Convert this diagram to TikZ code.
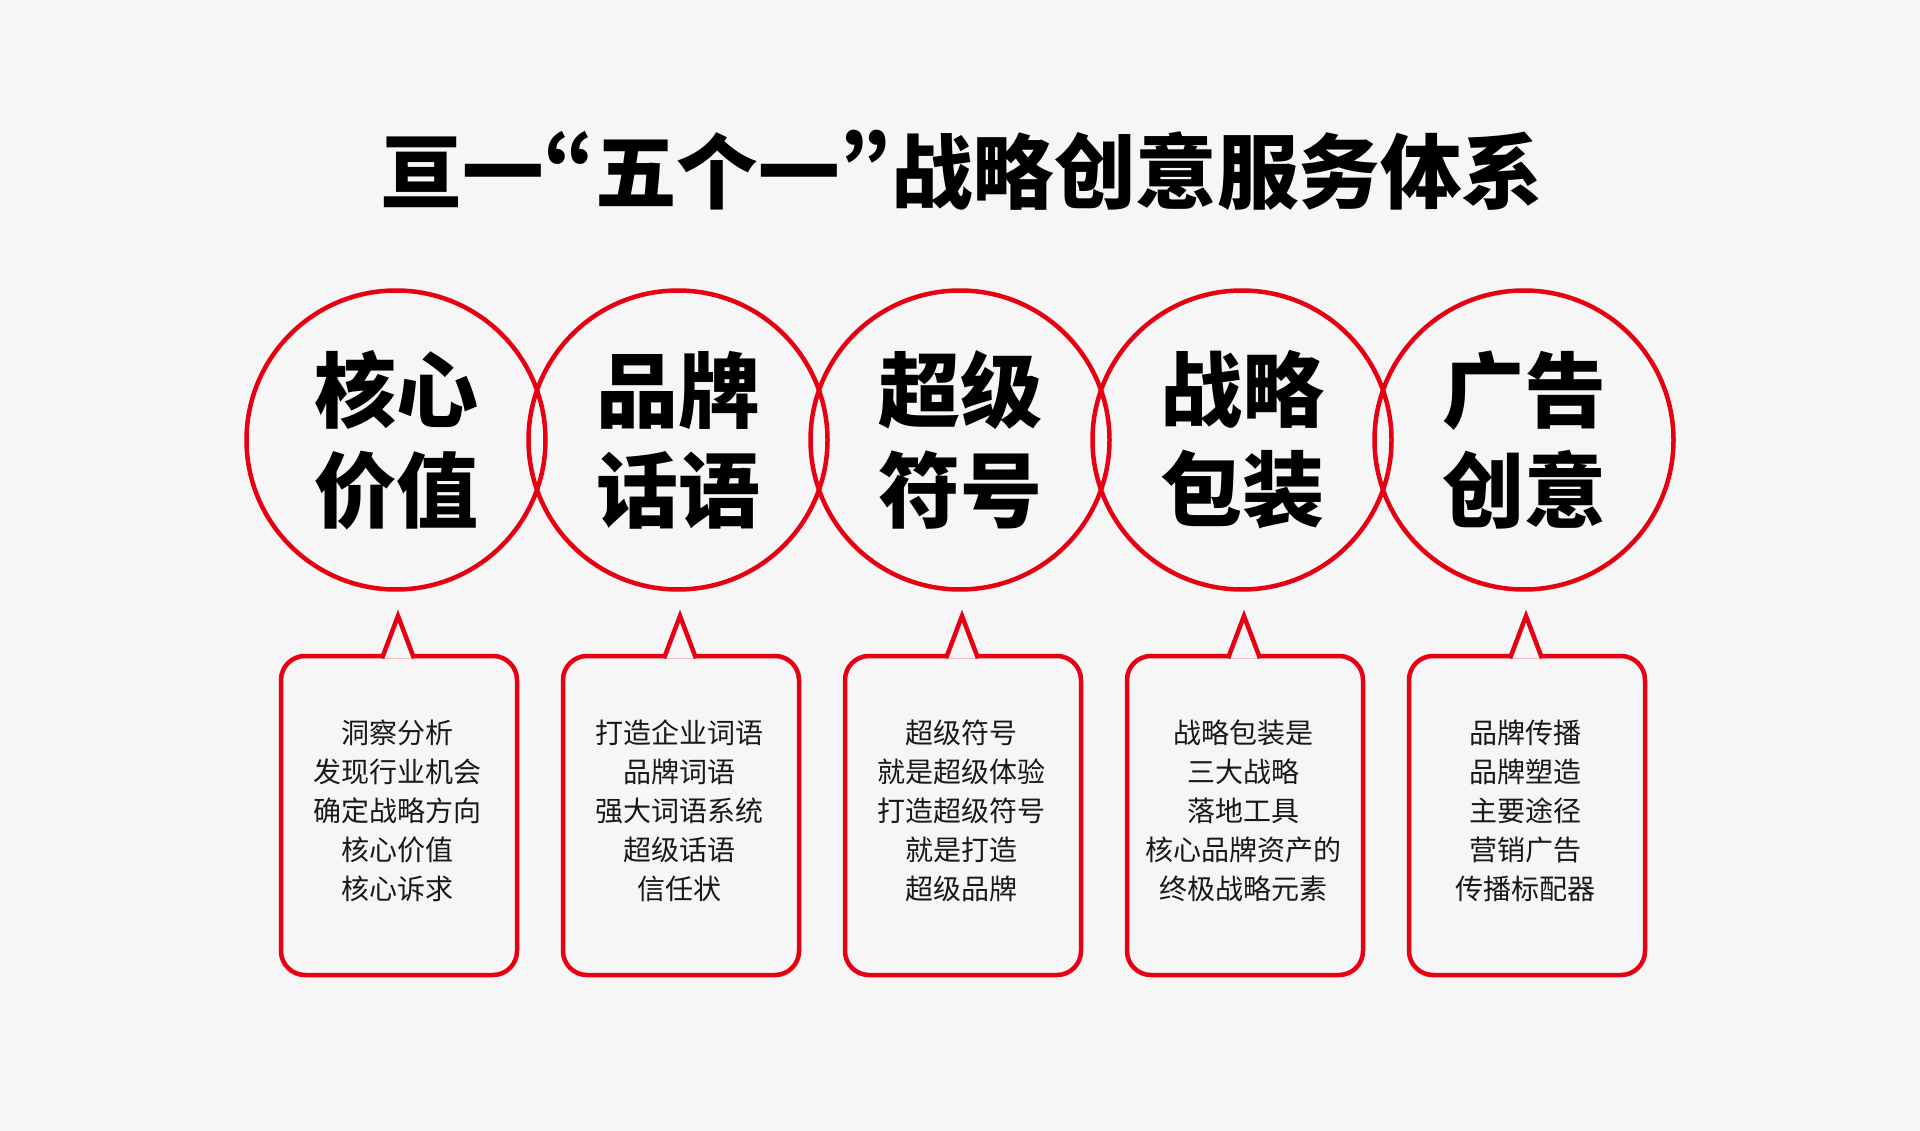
\documentclass[tikz,border=0pt]{standalone}
\usepackage{fontspec}
\setmainfont{Noto Sans CJK SC}
\newfontfamily\titlefont{Noto Sans CJK SC Black}
\usetikzlibrary{positioning}
\definecolor{brandred}{RGB}{230,0,18}
\definecolor{pagegray}{RGB}{247,246,247}
\newcommand{\narrowquote}[1]{{\addfontfeature{RawFeature=+pwid}#1}}
\tikzset{
    value-circle/.style = {draw=brandred, line width=4.5pt, circle, minimum size=299pt, inner sep=0pt, outer sep=0pt, align=center, font=\bfseries\fontsize{82pt}{100pt}\selectfont},
    note-frame/.style = {draw=brandred, line width=4.5pt, rectangle, rounded corners=24pt, minimum width=236pt, minimum height=319pt, inner sep=0pt, outer sep=0pt},
    note-tip/.style = {draw=brandred, fill=pagegray, line width=4.5pt, line join=miter},
    note-text/.style = {align=center, text=black!90, font=\fontsize{28pt}{39pt}\selectfont},
    main-title/.style = {font=\titlefont\fontsize{81.5pt}{95pt}\selectfont},
}

\begin{document}
\begin{tikzpicture}[x=1pt, y=-1pt]
\fill[pagegray] (0,0) rectangle (1920,1131);
\node[main-title] (title) at (962,170) {亘一\narrowquote{“}五个一\narrowquote{”}战略创意服务体系};

\node[value-circle] (c1) at (396,440) {核心\\价值};
\node[value-circle] (c2) at (678,440) {品牌\\话语};
\node[value-circle] (c3) at (960,440) {超级\\符号};
\node[value-circle] (c4) at (1242,440) {战略\\包装};
\node[value-circle] (c5) at (1524,440) {广告\\创意};

\node[note-frame, below=66.5pt of c1, xshift=3pt] (b1) {};
\node[note-frame, below=66.5pt of c2, xshift=3pt] (b2) {};
\node[note-frame, below=66.5pt of c3, xshift=3pt] (b3) {};
\node[note-frame, below=66.5pt of c4, xshift=3pt] (b4) {};
\node[note-frame, below=66.5pt of c5, xshift=3pt] (b5) {};

% tips pointing up, the fill hides the frame under them
\draw[note-tip] ([xshift=-17pt, yshift=-2.3pt]b1.north) -- ([xshift=-1pt, yshift=40pt]b1.north) -- ([xshift=15pt, yshift=-2.3pt]b1.north);
\draw[note-tip] ([xshift=-17pt, yshift=-2.3pt]b2.north) -- ([xshift=-1pt, yshift=40pt]b2.north) -- ([xshift=15pt, yshift=-2.3pt]b2.north);
\draw[note-tip] ([xshift=-17pt, yshift=-2.3pt]b3.north) -- ([xshift=-1pt, yshift=40pt]b3.north) -- ([xshift=15pt, yshift=-2.3pt]b3.north);
\draw[note-tip] ([xshift=-17pt, yshift=-2.3pt]b4.north) -- ([xshift=-1pt, yshift=40pt]b4.north) -- ([xshift=15pt, yshift=-2.3pt]b4.north);
\draw[note-tip] ([xshift=-17pt, yshift=-2.3pt]b5.north) -- ([xshift=-1pt, yshift=40pt]b5.north) -- ([xshift=15pt, yshift=-2.3pt]b5.north);

\node[note-text] (t1) at ([xshift=-2pt, yshift=5pt]b1.center) {洞察分析\\发现行业机会\\确定战略方向\\核心价值\\核心诉求};
\node[note-text] (t2) at ([xshift=-2pt, yshift=5pt]b2.center) {打造企业词语\\品牌词语\\强大词语系统\\超级话语\\信任状};
\node[note-text] (t3) at ([xshift=-2pt, yshift=5pt]b3.center) {超级符号\\就是超级体验\\打造超级符号\\就是打造\\超级品牌};
\node[note-text] (t4) at ([xshift=-2pt, yshift=5pt]b4.center) {战略包装是\\三大战略\\落地工具\\核心品牌资产的\\终极战略元素};
\node[note-text] (t5) at ([xshift=-2pt, yshift=5pt]b5.center) {品牌传播\\品牌塑造\\主要途径\\营销广告\\传播标配器};
\end{tikzpicture}
\end{document}
